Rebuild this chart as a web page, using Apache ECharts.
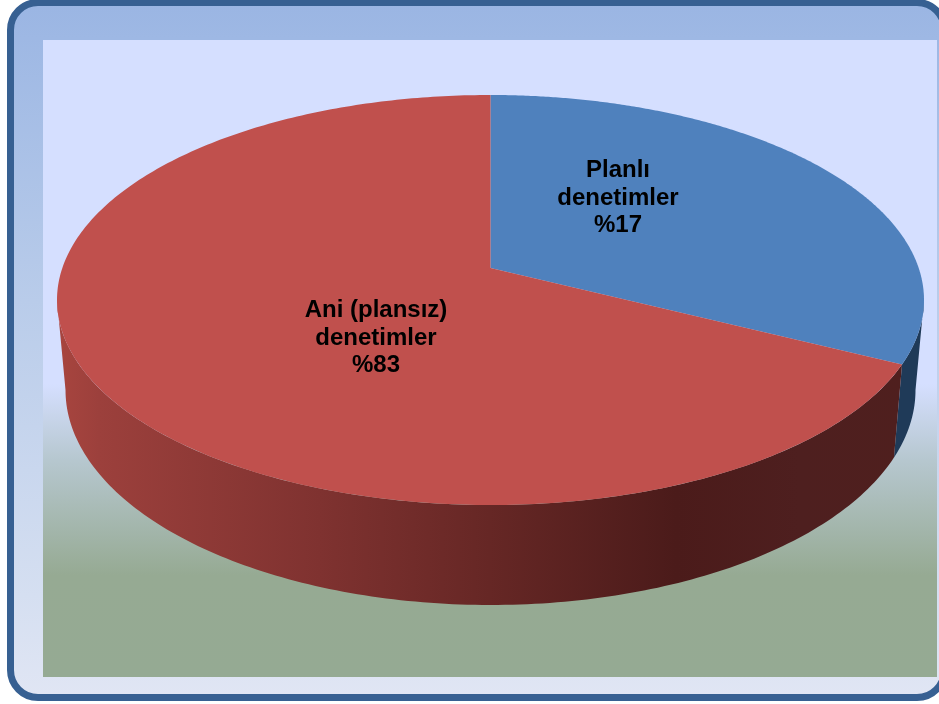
<!DOCTYPE html>
<html>
<head>
<meta charset="utf-8">
<style>html,body{margin:0;padding:0;background:#fff}#c{width:939px;height:704px}</style>
<script src="https://cdn.jsdelivr.net/npm/echarts@6/dist/echarts.min.js"></script>
</head>
<body>
<div id="c"></div>
<script>
// Data
const categories = ['Planlı denetimler', 'Ani (plansız) denetimler'];
const printedPercent = [17, 83];          // the percentages printed on the slices
// The reference's slices do not follow the printed numbers: once its perspective
// is undone, the blue wedge covers about a third of the disc. These shares reproduce the picture.
const drawnShare = [32.4, 67.6];
const labelLines = [['Planlı', 'denetimler'], ['Ani (plansız)', 'denetimler']];

// Look of the disc
const CX = 490.5, TOP = {cy: 300, rx: 433.5, ry: 205}, BOTTOM = {cy: 390, rx: 425, ry: 215};
const APEX_Y = 268;
const sliceColors = ['#4F81BD', '#C0504D'];
const labelAnchor = [[618, 198], [376, 338]];
const wallFill = [
  '#1F3A58',
  {type: 'linear', x: 57, y: 0, x2: 905, y2: 0, global: true, colorStops: [
    {offset: 0, color: '#A8453F'}, {offset: 0.05, color: '#9C403C'},
    {offset: 0.31, color: '#7F3230'}, {offset: 0.51, color: '#662725'},
    {offset: 0.73, color: '#4B1B1A'}, {offset: 0.875, color: '#4E1F1F'}, {offset: 1, color: '#4F1F1E'}
  ]}
];

// Perspective projection of a unit disc onto the top ellipse, keeping its centre at the apex
const yBack = TOP.cy - TOP.ry, yFront = TOP.cy + TOP.ry;
const P = (2 * APEX_Y - yBack - yFront) / (yBack - yFront);
const A = yBack * (1 + P) - APEX_Y;
const C = TOP.rx * Math.sqrt(1 - P * P);
function project(theta) {
  const X = Math.sin(theta), Y = Math.cos(theta), w = 1 + P * Y;
  return [CX + C * X / w, (APEX_Y + A * Y) / w];
}
function ellipseParam(pt) {
  let t = Math.atan2((pt[0] - CX) / TOP.rx, (TOP.cy - pt[1]) / TOP.ry);
  if (t < 0) t += 2 * Math.PI;
  return t;
}
function onEllipse(e, t) {
  return [CX + e.rx * Math.sin(t), e.cy - e.ry * Math.cos(t)];
}
const total = drawnShare.reduce((a, b) => a + b, 0);

function renderItem(params, api) {
  const i = params.dataIndex;
  let before = 0;
  for (let k = 0; k < i; k++) before += drawnShare[k];
  const th0 = before / total * 2 * Math.PI;
  const th1 = (before + api.value(0)) / total * 2 * Math.PI;
  const children = [];

  // side wall: only the front half of the rim (pi/2 .. 3pi/2 on the ellipse)
  const t0 = Math.max(ellipseParam(project(th0)), Math.PI / 2);
  let tEndRaw = ellipseParam(project(th1));
  if (tEndRaw <= 1e-6) tEndRaw = 2 * Math.PI;
  const t1 = Math.min(tEndRaw, 1.5 * Math.PI);
  if (t1 > t0) {
    const up = [], down = [], n = 160;
    for (let s = 0; s <= n; s++) {
      const t = t0 + (t1 - t0) * s / n;
      up.push(onEllipse(TOP, t));
      down.unshift(onEllipse(BOTTOM, t));
    }
    children.push({type: 'polygon', z2: 1, shape: {points: up.concat(down)}, style: {fill: wallFill[i]}});
  }

  // top face
  const pts = [[CX, APEX_Y]], m = 300;
  for (let s = 0; s <= m; s++) pts.push(project(th0 + (th1 - th0) * s / m));
  children.push({type: 'polygon', z2: 2, shape: {points: pts}, style: {fill: sliceColors[i]}});

  // label
  children.push({
    type: 'text', z2: 3,
    style: {
      x: labelAnchor[i][0], y: labelAnchor[i][1],
      text: labelLines[i].concat('%' + printedPercent[i]).join('\n'),
      fill: '#000', font: 'bold 24px "Liberation Sans", Arial, sans-serif',
      align: 'center', verticalAlign: 'middle', lineHeight: 27.3
    }
  });
  return {type: 'group', children};
}

const chart = echarts.init(document.getElementById('c'), null, {renderer: 'canvas'});
chart.setOption({
  animation: false,
  backgroundColor: '#ffffff',
  graphic: [
    {type: 'rect', silent: true, z: 0,
     shape: {x: 10.5, y: 2.5, width: 934, height: 695, r: 27.5},
     style: {
       stroke: '#376092', lineWidth: 7,
       fill: {type: 'linear', x: 0, y: 0, x2: 0, y2: 1, colorStops: [
         {offset: 0, color: '#9AB5E3'}, {offset: 0.43, color: '#B9CCEA'},
         {offset: 0.85, color: '#D5DFF1'}, {offset: 1, color: '#E1E6F4'}
       ]}
     }},
    {type: 'rect', silent: true, z: 1,
     shape: {x: 43, y: 40, width: 894, height: 637},
     style: {
       fill: {type: 'linear', x: 0, y: 0, x2: 0, y2: 1, colorStops: [
         {offset: 0, color: '#D5DFFF'}, {offset: 0.54, color: '#D5DFFF'},
         {offset: 0.66, color: '#B6C7CF'}, {offset: 0.84, color: '#96AA93'},
         {offset: 1, color: '#95AA93'}
       ]}
     }}
  ],
  series: [{
    type: 'custom',
    coordinateSystem: 'none',
    silent: true,
    z: 5,
    clip: false,
    renderItem,
    data: drawnShare.map((v, i) => ({name: categories[i], value: [v]}))
  }]
});
</script>
</body>
</html>
